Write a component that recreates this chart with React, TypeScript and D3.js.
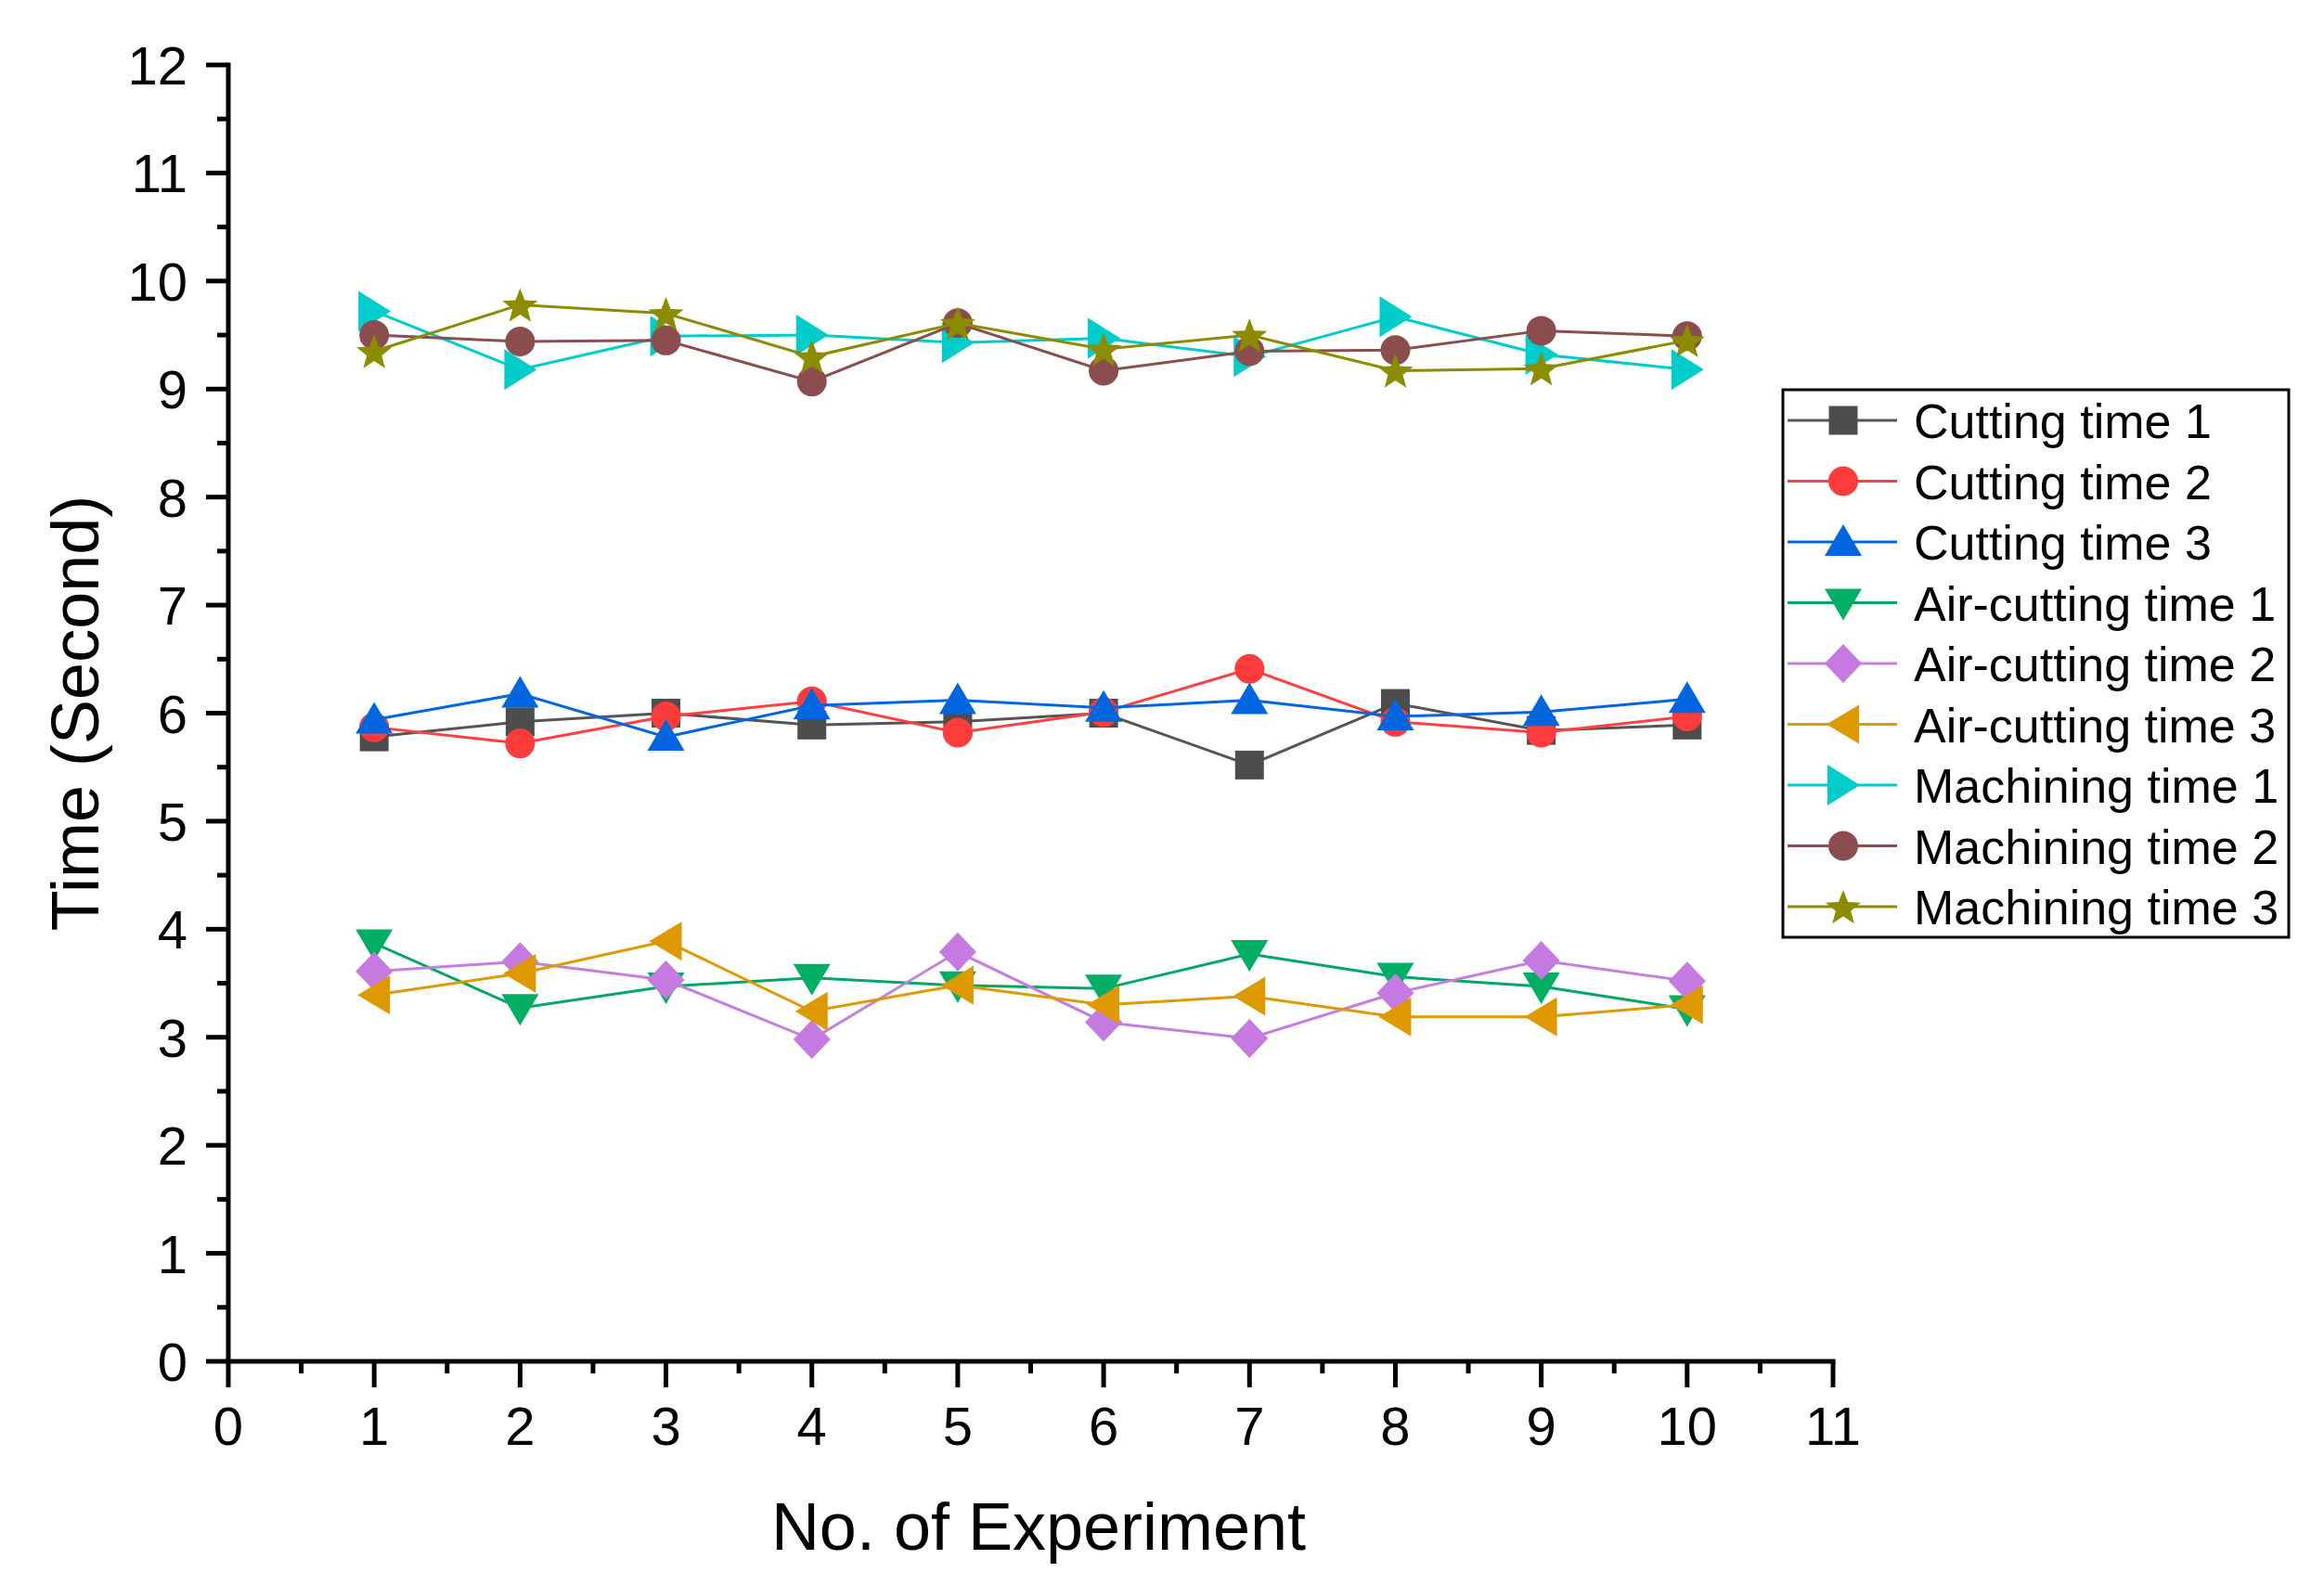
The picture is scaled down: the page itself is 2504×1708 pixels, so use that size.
import { useEffect, useRef } from 'react';
import * as d3 from 'd3';

// experiment numbers along x
const experiments = [1, 2, 3, 4, 5, 6, 7, 8, 9, 10];

// values (seconds)
const cuttingTime1 = [5.78, 5.92, 6.0, 5.89, 5.92, 6.0, 5.52, 6.09, 5.84, 5.89];
const cuttingTime2 = [5.87, 5.72, 5.97, 6.11, 5.82, 6.01, 6.41, 5.92, 5.82, 5.97];
const cuttingTime3 = [5.94, 6.18, 5.78, 6.07, 6.12, 6.05, 6.12, 5.97, 6.01, 6.13];
const airCuttingTime1 = [3.87, 3.27, 3.47, 3.55, 3.48, 3.45, 3.77, 3.56, 3.47, 3.26];
const airCuttingTime2 = [3.61, 3.7, 3.53, 2.98, 3.79, 3.14, 2.99, 3.41, 3.71, 3.52];
const airCuttingTime3 = [3.39, 3.59, 3.89, 3.24, 3.48, 3.3, 3.38, 3.19, 3.19, 3.3];
const machiningTime1 = [9.72, 9.18, 9.49, 9.5, 9.43, 9.47, 9.3, 9.67, 9.32, 9.18];
const machiningTime2 = [9.5, 9.44, 9.45, 9.07, 9.61, 9.17, 9.35, 9.36, 9.54, 9.49];
const machiningTime3 = [9.35, 9.78, 9.7, 9.3, 9.61, 9.37, 9.5, 9.17, 9.19, 9.45];

const seriesNames = [
    'Cutting time 1', 'Cutting time 2', 'Cutting time 3',
    'Air-cutting time 1', 'Air-cutting time 2', 'Air-cutting time 3',
    'Machining time 1', 'Machining time 2', 'Machining time 3',
];
const seriesValues = [
    cuttingTime1, cuttingTime2, cuttingTime3,
    airCuttingTime1, airCuttingTime2, airCuttingTime3,
    machiningTime1, machiningTime2, machiningTime3,
];

const xTicks = [0, 1, 2, 3, 4, 5, 6, 7, 8, 9, 10, 11];
const yTicks = [0, 1, 2, 3, 4, 5, 6, 7, 8, 9, 10, 11, 12];

type Shape = 'square' | 'circle' | 'up' | 'down' | 'diamond' | 'left' | 'right' | 'star';

const shapes: Shape[] = ['square', 'circle', 'up', 'down', 'diamond', 'left', 'right', 'circle', 'star'];
const lineColors = ['#555555', '#ff4040', '#0066e0', '#00a865', '#c47ee0', '#de9a00', '#00cccc', '#8b4d4d', '#8c8c00'];
const markerColors = ['#4d4d4d', '#ff3b3b', '#0066e0', '#00ae64', '#c47ae0', '#de9800', '#00cccc', '#8b4d4d', '#8c8c00'];

const FONT = '"Liberation Sans", Arial, sans-serif';

// marker outline, centred on 0,0
const markerPath = (shape: Shape): string => {
    switch (shape) {
        case 'square':
            return 'M-15.5,-15.5H15.5V15.5H-15.5Z';
        case 'circle':
            return d3.symbol(d3.symbolCircle, Math.PI * 16 * 16)() as string;
        case 'up':
            return 'M0,-19L20,15L-20,15Z';
        case 'down':
            return 'M0,19L20,-15L-20,-15Z';
        case 'diamond':
            return 'M0,-21L20,0L0,21L-20,0Z';
        case 'left':
            return 'M-18,0L17,-21L17,21Z';
        case 'right':
            return 'M18,0L-17,-22L-17,22Z';
        case 'star': {
            const pts: string[] = [];
            for (let i = 0; i < 10; i++) {
                const r = i % 2 === 0 ? 20 : 8.5;
                const a = -Math.PI / 2 + (i * Math.PI) / 5;
                pts.push(`${(r * Math.cos(a)).toFixed(2)},${(r * Math.sin(a) + 2).toFixed(2)}`);
            }
            return 'M' + pts.join('L') + 'Z';
        }
    }
};

const App: React.FC = () => {
    const svgRef = useRef<SVGSVGElement>(null);

    useEffect(() => {
        if (!svgRef.current) return;
        document.body.style.margin = '0';

        const svg = d3.select(svgRef.current);
        svg.selectAll('*').remove();

        const left = 246;
        const right = 1975;
        const top = 70;
        const bottom = 1467;

        const xScale = d3.scaleLinear().domain([0, 11]).range([left, right]);
        const yScale = d3.scaleLinear().domain([0, 12]).range([bottom, top]);

        const line = d3.line<number>()
            .x((_, i) => xScale(experiments[i]))
            .y(d => yScale(d));

        // series lines and markers, drawn in order so later ones sit on top
        seriesValues.forEach((values, s) => {
            const g = svg.append('g');
            g.append('path')
                .datum(values)
                .attr('d', line)
                .attr('fill', 'none')
                .attr('stroke', lineColors[s])
                .attr('stroke-width', 3);
            g.selectAll('path.marker')
                .data(values)
                .enter()
                .append('path')
                .attr('class', 'marker')
                .attr('d', markerPath(shapes[s]))
                .attr('transform', (d, i) => `translate(${xScale(experiments[i])},${yScale(d)})`)
                .attr('fill', markerColors[s]);
        });

        // axes
        const axisG = svg.append('g').attr('stroke', '#000');

        const yMinor = d3.range(0.5, 12, 1);
        const xMinor = d3.range(0.5, 11, 1);

        axisG.selectAll('line.ymaj')
            .data(yTicks)
            .enter()
            .append('line')
            .attr('x1', left - 24)
            .attr('x2', left)
            .attr('y1', d => yScale(d))
            .attr('y2', d => yScale(d))
            .attr('stroke-width', 5);

        axisG.selectAll('line.ymin')
            .data(yMinor)
            .enter()
            .append('line')
            .attr('x1', left - 12)
            .attr('x2', left)
            .attr('y1', d => yScale(d))
            .attr('y2', d => yScale(d))
            .attr('stroke-width', 5);

        axisG.selectAll('line.xmaj')
            .data(xTicks)
            .enter()
            .append('line')
            .attr('x1', d => xScale(d))
            .attr('x2', d => xScale(d))
            .attr('y1', bottom)
            .attr('y2', bottom + 28)
            .attr('stroke-width', 5);

        axisG.selectAll('line.xmin')
            .data(xMinor)
            .enter()
            .append('line')
            .attr('x1', d => xScale(d))
            .attr('x2', d => xScale(d))
            .attr('y1', bottom)
            .attr('y2', bottom + 13)
            .attr('stroke-width', 5);

        axisG.append('line')
            .attr('x1', left).attr('x2', left)
            .attr('y1', top - 2.5).attr('y2', bottom + 2.5)
            .attr('stroke-width', 5);

        axisG.append('line')
            .attr('x1', left - 2.5).attr('x2', right + 2.5)
            .attr('y1', bottom).attr('y2', bottom)
            .attr('stroke-width', 5);

        // tick labels
        svg.append('g')
            .selectAll('text')
            .data(yTicks)
            .enter()
            .append('text')
            .attr('x', 202)
            .attr('y', d => yScale(d) + 21)
            .attr('text-anchor', 'end')
            .attr('font-family', FONT)
            .attr('font-size', 58)
            .text(d => d);

        svg.append('g')
            .selectAll('text')
            .data(xTicks)
            .enter()
            .append('text')
            .attr('x', d => xScale(d))
            .attr('y', 1557)
            .attr('text-anchor', 'middle')
            .attr('font-family', FONT)
            .attr('font-size', 58)
            .text(d => d);

        // axis titles
        svg.append('text')
            .attr('transform', `translate(106,${(top + bottom) / 2}) rotate(-90)`)
            .attr('text-anchor', 'middle')
            .attr('font-family', FONT)
            .attr('font-size', 72)
            .text('Time (Second)');

        svg.append('text')
            .attr('x', 1119)
            .attr('y', 1670)
            .attr('text-anchor', 'middle')
            .attr('font-family', FONT)
            .attr('font-size', 72)
            .text('No. of Experiment');

        // legend
        const legend = svg.append('g');
        legend.append('rect')
            .attr('x', 1921)
            .attr('y', 420)
            .attr('width', 545)
            .attr('height', 590)
            .attr('fill', '#fff')
            .attr('stroke', '#000')
            .attr('stroke-width', 3);

        const rowY = (i: number) => 453 + i * 65.5;

        seriesNames.forEach((name, i) => {
            const row = legend.append('g');
            row.append('line')
                .attr('x1', 1926)
                .attr('x2', 2044)
                .attr('y1', rowY(i))
                .attr('y2', rowY(i))
                .attr('stroke', lineColors[i])
                .attr('stroke-width', 3);
            row.append('path')
                .attr('d', markerPath(shapes[i]))
                .attr('transform', `translate(1986,${rowY(i)})`)
                .attr('fill', markerColors[i]);
            row.append('text')
                .attr('x', 2062)
                .attr('y', rowY(i) + 19)
                .attr('font-family', FONT)
                .attr('font-size', 52)
                .text(name);
        });
    }, []);

    return (
        <svg
            ref={svgRef}
            width={2504}
            height={1708}
            style={{ display: 'block', background: '#fff' }}
        ></svg>
    );
};

export default App;
